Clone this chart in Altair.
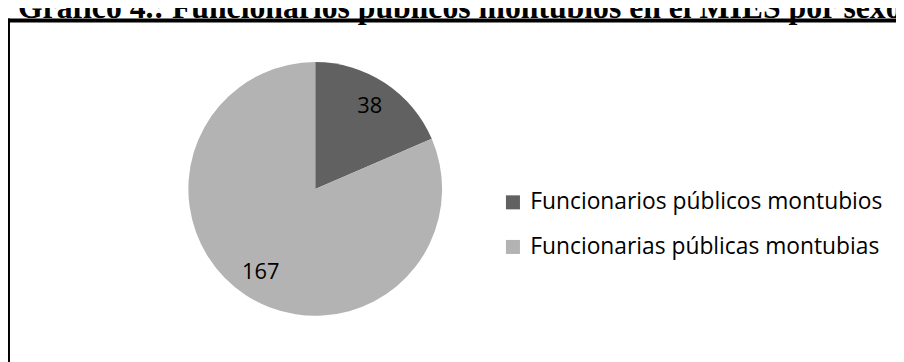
import altair as alt
import pandas as pd

categories = ["Funcionarios públicos montubios", "Funcionarias públicas montubias"]
values = [38, 167]
colors = ["#616161", "#b3b3b3"]
title_text = "Gráfico 4.: Funcionarios públicos montubios en el MIES por sexo"

df = pd.DataFrame({"categoria": categories, "valor": values, "orden": [0, 1]})

W, H = 620, 340
FONT = "Open Sans"

base = alt.Chart(df)

arcs = base.mark_arc(outerRadius=128, stroke=None).encode(
    theta=alt.Theta("valor:Q", stack=True),
    color=alt.Color(
        "categoria:N",
        scale=alt.Scale(domain=categories, range=colors),
        sort=categories,
        legend=alt.Legend(
            title=None,
            orient="none",
            legendX=498,
            legendY=172,
            symbolType="square",
            symbolSize=200,
            symbolStrokeWidth=0,
            labelFont=FONT,
            labelFontSize=23,
            labelColor="#000000",
            labelOffset=6,
            rowPadding=21,
            padding=0,
            labelLimit=500,
        ),
    ),
    order=alt.Order("orden:Q"),
)

labels = base.mark_text(radius=100, font=FONT, fontSize=22, color="#000000").encode(
    theta=alt.Theta("valor:Q", stack=True),
    text=alt.Text("valor:Q"),
    order=alt.Order("orden:Q"),
)

frame_data = pd.DataFrame({"k": [0]})
left_rule = alt.Chart(frame_data).mark_rule(color="#000000", strokeWidth=4).encode(
    x=alt.value(0), y=alt.value(-2), y2=alt.value(400)
)
top_rule = alt.Chart(frame_data).mark_rule(color="#000000", strokeWidth=4).encode(
    x=alt.value(-2), x2=alt.value(1000), y=alt.value(0)
)
title_mark = alt.Chart(frame_data).mark_text(
    align="left",
    baseline="alphabetic",
    font="Liberation Serif",
    fontSize=32,
    fontWeight="bold",
    color="#000000",
).encode(x=alt.value(10), y=alt.value(-3), text=alt.value(title_text))

chart = (
    alt.layer(arcs, labels, left_rule, top_rule, title_mark)
    .properties(
        width=W,
        height=H,
        autosize=alt.AutoSizeParams(type="none"),
        padding={"left": 0, "top": 11, "right": 276, "bottom": 3},
        background="#ffffff",
    )
    .configure_view(strokeWidth=0, stroke=None)
)

chart.save("out.html", embed_options={"renderer": "svg", "actions": False})
